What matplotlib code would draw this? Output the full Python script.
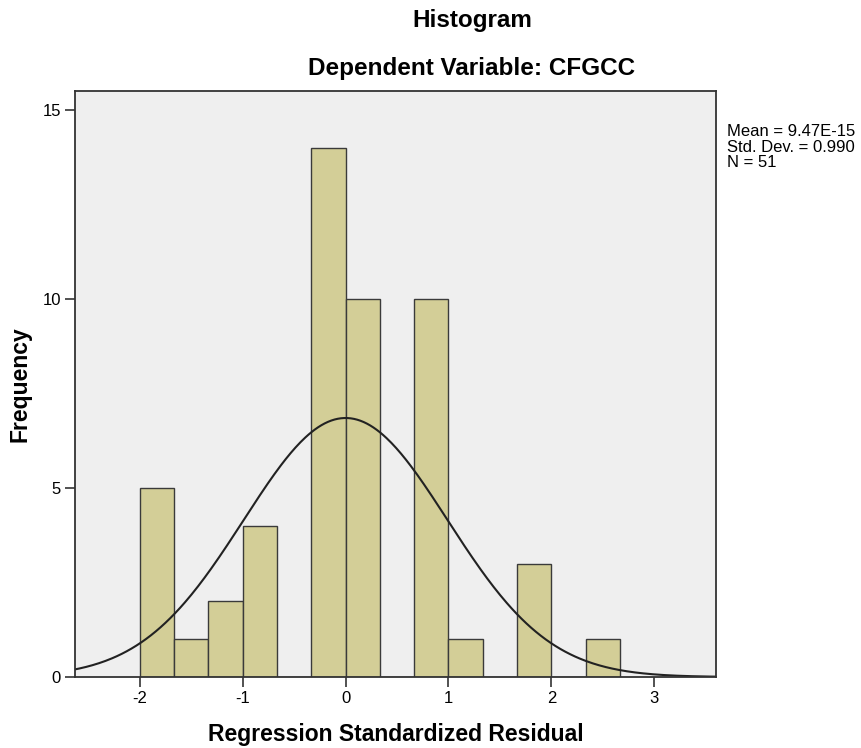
import numpy as np
import matplotlib
matplotlib.use('Agg')
import matplotlib.pyplot as plt

plt.rcParams['font.family'] = ['Liberation Sans', 'DejaVu Sans']

# bin edges (width 1/3) and counts
bin_left = [-2.0, -5/3, -4/3, -1.0, -2/3, -1/3, 0.0, 1/3, 2/3, 1.0, 4/3, 5/3, 2.0, 7/3]
counts = [5, 1, 2, 4, 0, 14, 10, 0, 10, 1, 0, 3, 0, 1]
bin_width = 1/3
mean = 9.47e-15
std = 0.990
n = 51

fig = plt.figure(figsize=(8.61, 7.48), dpi=100)
ax = fig.add_axes([75/861, 71/748, 641/861, 586/748])
ax.set_facecolor('#efefef')

ax.bar(bin_left, counts, width=bin_width, align='edge',
       color='#d3ce97', edgecolor='#3a3a3a', linewidth=1.0)

xs = np.linspace(-2.65, 3.65, 400)
ys = n * bin_width / (std * np.sqrt(2*np.pi)) * np.exp(-0.5*((xs-mean)/std)**2)
ax.plot(xs, ys, color='#222222', linewidth=1.5)

ax.set_xlim(-2.63, 3.6)
ax.set_ylim(0, 15.5)
ax.set_xticks([-2, -1, 0, 1, 2, 3])
ax.set_xticklabels(['-2', '-1', '0', '1', '2', '3'])
ax.set_yticks([0, 5, 10, 15])
ax.tick_params(direction='out', length=7, width=1.2, labelsize=12, color='#333333', pad=3)
for s in ax.spines.values():
    s.set_linewidth(1.3)
    s.set_color('#333333')

ax.set_xlabel('Regression Standardized Residual', fontsize=16.5, fontweight='bold', va='center')
ax.xaxis.set_label_coords(0.5, (13 - 71) / 586)
ax.set_ylabel('Frequency', fontsize=16.5, fontweight='bold', va='center')
ax.yaxis.set_label_coords((20 - 75) / 641, 0.5)

fig.text(472/861, 1 - 20/748, 'Histogram', ha='center', va='center', fontsize=17.5, fontweight='bold')
fig.text(472/861, 1 - 68/748, 'Dependent Variable: CFGCC', ha='center', va='center', fontsize=17.5, fontweight='bold')

fig.text(727/861, 1 - 124/748, 'Mean = 9.47E-15\nStd. Dev. = 0.990\nN = 51',
         ha='left', va='top', fontsize=12, linespacing=1.05)

fig.savefig('out.png', dpi=100)
